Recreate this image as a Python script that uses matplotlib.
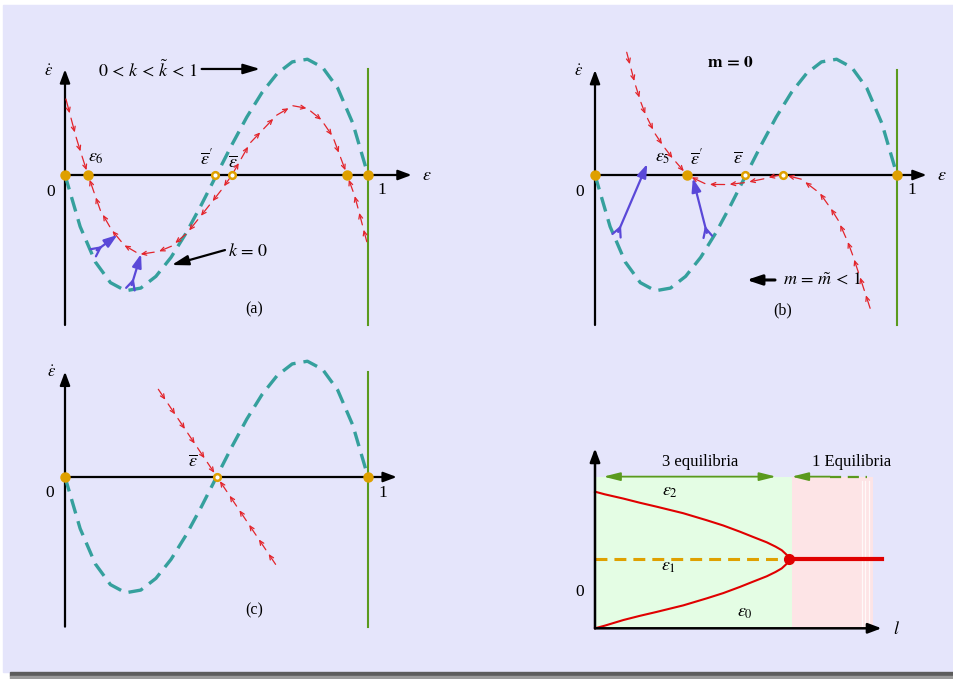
import numpy as np
import matplotlib
matplotlib.use('Agg')
import matplotlib.pyplot as plt
from matplotlib.patches import Rectangle

plt.rcParams['font.family'] = ['Liberation Serif', 'DejaVu Serif']
plt.rcParams['mathtext.fontset'] = 'stix'

BG = '#e5e5fb'
TEAL = '#35a09d'
GREEN = '#5a9a1e'
ORANGE = '#dfa000'
RED = '#e3242b'
BLUE = '#5a48d8'

# nullcline shape (same in a, b, c): eps vs eps-dot
eps_grid = [0.0, 0.05, 0.10, 0.15, 0.20, 0.25, 0.30, 0.35, 0.40, 0.45, 0.50,
            0.55, 0.60, 0.65, 0.70, 0.75, 0.80, 0.85, 0.90, 0.95, 1.0]
edot_grid = [0.0, -0.445, -0.749, -0.928, -0.998, -0.975, -0.874, -0.710, -0.499, -0.257, 0.0,
             0.257, 0.499, 0.710, 0.874, 0.975, 0.998, 0.928, 0.749, 0.445, 0.0]

# panel (a) trajectories, listed in flow direction
a_in_x = [0.003, 0.039, 0.076]
a_in_y = [0.655, 0.302, 0.0]
a_low_x = [0.551, 0.512, 0.446, 0.402, 0.336, 0.251, 0.204, 0.154, 0.116, 0.076]
a_low_y = [0.0, -0.144, -0.360, -0.503, -0.647, -0.684, -0.632, -0.474, -0.302, 0.0]
a_hump_x = [0.551, 0.611, 0.699, 0.752, 0.798, 0.842, 0.884, 0.931]
a_hump_y = [0.0, 0.276, 0.517, 0.597, 0.575, 0.491, 0.330, 0.0]
a_tail_x = [0.996, 0.957, 0.931]
a_tail_y = [-0.575, -0.187, 0.0]
a_stable = [0.0, 0.076, 0.931, 1.0]
a_unstable = [0.495, 0.551]

# panel (b)
b_in_x = [0.105, 0.132, 0.160, 0.204, 0.248, 0.305]
b_in_y = [1.058, 0.791, 0.560, 0.330, 0.172, 0.0]
b_mid_x = [0.623, 0.590, 0.546, 0.469, 0.392, 0.359, 0.305]
b_mid_y = [0.006, -0.009, -0.043, -0.078, -0.086, -0.072, 0.0]
b_tail_x = [0.911, 0.877, 0.844, 0.800, 0.745, 0.679, 0.623]
b_tail_y = [-1.149, -0.877, -0.618, -0.359, -0.158, -0.028, 0.0]
b_stable = [0.0, 0.305, 1.0]
b_unstable = [0.497, 0.623]

# panel (c)
c_in_x = [0.308, 0.502]
c_in_y = [0.756, 0.0]
c_up_x = [0.695, 0.502]
c_up_y = [-0.753, 0.0]
c_stable = [0.0, 1.0]
c_unstable = [0.502]

# panel (d) bifurcation branches
d_l = [0.0, 0.05, 0.146, 0.23, 0.318, 0.454, 0.575, 0.66, 0.746, 0.81, 0.884, 0.929, 0.961, 0.987, 0.995, 1.0]
d_eps2 = [0.990, 0.971, 0.940, 0.910, 0.881, 0.834, 0.783, 0.745, 0.700, 0.664, 0.623, 0.592, 0.566, 0.532, 0.516, 0.5]
d_eps0 = [0.0, 0.019, 0.060, 0.090, 0.119, 0.166, 0.217, 0.255, 0.300, 0.336, 0.377, 0.408, 0.434, 0.468, 0.484, 0.5]
d_eps1 = [0.5, 0.5]
d_l1 = [0.0, 1.0]
d_after_l = [1.0, 1.475]
d_after_eps = [0.5, 0.5]

W, H = 954, 679
fig = plt.figure(figsize=(W / 100, H / 100), dpi=100)
fig.patch.set_facecolor('white')
fig.add_artist(Rectangle((3 / W, 7 / H), 1, (H - 12) / H, transform=fig.transFigure,
                         color=BG, zorder=-10))
fig.add_artist(Rectangle((10 / W, 3 / H), 1, 4 / H, transform=fig.transFigure,
                         color='#5c5c5c', zorder=-10))
fig.add_artist(Rectangle((10 / W, 0), 1, 3 / H, transform=fig.transFigure,
                         color='#9a9a9a', zorder=-10))


def place(box, origin, sx, sy):
    x0, y0, x1, y1 = box
    ax = fig.add_axes([x0 / W, 1 - y1 / H, (x1 - x0) / W, (y1 - y0) / H])
    ox, oy = origin
    ax.set_xlim((x0 - ox) / sx, (x1 - ox) / sx)
    ax.set_ylim((oy - y1) / sy, (oy - y0) / sy)
    ax.axis('off')
    ax.patch.set_alpha(0)
    return ax


def arrow(ax, p0, p1, color='k', lw=1.5, style='-|>', hl=0.9, hw=0.3, ms=10, z=3):
    ax.annotate('', xy=p1, xytext=p0,
                arrowprops=dict(arrowstyle=f'{style},head_length={hl},head_width={hw}',
                                color=color, lw=lw, shrinkA=0, shrinkB=0,
                                mutation_scale=ms), zorder=z)


def frame(ax, xend, ytop, ybot):
    arrow(ax, (0, 0), (xend, 0), lw=1.6, hl=0.8, hw=0.3, ms=10)
    arrow(ax, (0, ybot), (0, ytop), lw=1.6, hl=0.8, hw=0.3, ms=10)
    ax.plot([1, 1], [ybot, ytop], color=GREEN, lw=1.5, zorder=3)
    ax.plot(eps_grid, edot_grid, color=TEAL, lw=2.4, ls=(0, (4.5, 2.4)), zorder=4)


def flow(ax, xs, ys, dash=14.0, gap=5.0):
    pts = ax.transData.transform(np.column_stack([xs, ys]))
    seg = np.hypot(*np.diff(pts, axis=0).T)
    cum = np.concatenate([[0], np.cumsum(seg)])
    total = cum[-1]
    n = max(1, int(round((total + gap) / (dash + gap))))
    step = total / n
    inv = ax.transData.inverted()
    for i in range(n):
        s0, s1 = i * step, i * step + step - gap
        p0 = [np.interp(s0, cum, pts[:, 0]), np.interp(s0, cum, pts[:, 1])]
        p1 = [np.interp(s1, cum, pts[:, 0]), np.interp(s1, cum, pts[:, 1])]
        q0, q1 = inv.transform([p0, p1])
        arrow(ax, q0, q1, color=RED, lw=0.9, style='->', hl=0.45, hw=0.2, ms=7, z=4)


def push(ax, p0, p1):
    arrow(ax, p0, p1, color=BLUE, lw=1.6, style='-|>', hl=1.0, hw=0.35, ms=8, z=5)
    a, b = ax.transData.transform([p0, p1])
    u = (b - a) / np.hypot(*(b - a))
    q = ax.transData.inverted().transform(a + 7 * u)
    arrow(ax, p0, q, color=BLUE, lw=1.6, style='->', hl=0.8, hw=0.4, ms=8, z=5)


def equilibria(ax, stable, unstable):
    ax.plot(stable, [0] * len(stable), 'o', color=ORANGE, ms=6.5, zorder=6)
    ax.plot(unstable, [0] * len(unstable), 'o', mfc='white', mec=ORANGE,
            mew=1.8, ms=4.8, zorder=6)


def txt(ax, x, y, s, size=11, **kw):
    ax.text(x, y, s, ha='center', va='center', fontsize=size, **kw)


# ---- (a)
ax = place((20, 30, 452, 340), (65, 175), 303, 116)
frame(ax, 1.144, 0.911, -1.293)
for xs, ys in [(a_in_x, a_in_y), (a_low_x, a_low_y), (a_hump_x, a_hump_y), (a_tail_x, a_tail_y)]:
    flow(ax, xs, ys)
push(ax, (0.105, -0.648), (0.173, -0.517))
push(ax, (0.220, -0.948), (0.251, -0.681))
equilibria(ax, a_stable, a_unstable)
txt(ax, -0.056, 0.888, r'$\dot{\epsilon}$', 12)
txt(ax, 0.102, 0.150, r'$\epsilon_6$', 13)
txt(ax, 0.466, 0.135, r"$\overline{\epsilon}'$", 13)
txt(ax, 0.553, 0.108, r'$\overline{\epsilon}$', 13)
txt(ax, -0.047, -0.144, '0', 12.5)
txt(ax, 1.047, -0.129, '1', 12.5)
txt(ax, 1.194, 0.0, r'$\epsilon$', 13)
txt(ax, 0.624, -1.158, '(a)', 11.5)
txt(ax, 0.272, 0.908, r'$0\,<\,k\,<\,\tilde{k}\,<\,1$', 13)
arrow(ax, (0.451, 0.914), (0.644, 0.914), lw=1.6, hl=1.0, hw=0.3, ms=10)
txt(ax, 0.604, -0.661, r'$k\,=\,0$', 13)
arrow(ax, (0.528, -0.647), (0.352, -0.776), lw=1.6, hl=1.0, hw=0.3, ms=10)

# ---- (b)
ax = place((560, 30, 954, 340), (595, 175), 302, 116)
frame(ax, 1.098, 0.905, -1.293)
for xs, ys in [(b_in_x, b_in_y), (b_mid_x, b_mid_y), (b_tail_x, b_tail_y)]:
    flow(ax, xs, ys)
push(ax, (0.077, -0.489), (0.173, 0.095))
push(ax, (0.370, -0.497), (0.324, -0.028))
equilibria(ax, b_stable, b_unstable)
txt(ax, -0.056, 0.888, r'$\dot{\epsilon}$', 12)
txt(ax, 0.447, 0.968, r'$\mathbf{m\,=\,0}$', 12.5)
txt(ax, 0.223, 0.150, r'$\epsilon_5$', 13)
txt(ax, 0.337, 0.135, r"$\overline{\epsilon}'$", 13)
txt(ax, 0.472, 0.135, r'$\overline{\epsilon}$', 13)
txt(ax, -0.050, -0.144, '0', 12.5)
txt(ax, 1.049, -0.129, '1', 12.5)
txt(ax, 1.148, 0.0, r'$\epsilon$', 13)
txt(ax, 0.621, -1.164, '(b)', 11.5)
txt(ax, 0.753, -0.905, r'$m\,=\,\tilde{m}\,<\,1$', 13)
arrow(ax, (0.596, -0.905), (0.502, -0.905), lw=2.2, hl=0.9, hw=0.3, ms=10)

# ---- (c)
ax = place((20, 345, 452, 650), (65, 477), 303, 116)
frame(ax, 1.095, 0.908, -1.29)
flow(ax, c_in_x, c_in_y)
flow(ax, c_up_x, c_up_y)
equilibria(ax, c_stable, c_unstable)
txt(ax, -0.044, 0.899, r'$\dot{\epsilon}$', 12)
txt(ax, 0.423, 0.128, r'$\overline{\epsilon}$', 13)
txt(ax, -0.050, -0.135, '0', 12.5)
txt(ax, 1.048, -0.141, '1', 12.5)
txt(ax, 0.624, -1.149, '(c)', 11.5)

# ---- (d)
ax = place((560, 440, 954, 665), (595, 628.3), 194.3, 138)
ax.add_patch(Rectangle((0, 0), 1.012, 1.099, color='#e4fde4', zorder=0, lw=0))
ax.add_patch(Rectangle((1.012, 0), 0.418, 1.099, color='#fde4e6', zorder=0, lw=0))
for xv in [1.372, 1.392, 1.41]:
    ax.plot([xv, xv], [0.01, 1.07], color='white', lw=0.9, alpha=0.8, zorder=1)
ax.plot(d_l, d_eps2, color='#e00000', lw=1.5, zorder=3)
ax.plot(d_l, d_eps0, color='#e00000', lw=1.5, zorder=3)
ax.plot(d_l1, d_eps1, color=ORANGE, lw=2.2, ls=(0, (3.9, 2.3)), zorder=3)
ax.plot(d_after_l, d_after_eps, color='#e00000', lw=3, zorder=3)
ax.plot([1.0], [0.5], 'o', color='#e00000', ms=7, zorder=4)
arrow(ax, (0, 0), (1.475, 0), lw=1.8, hl=0.8, hw=0.3, ms=10)
arrow(ax, (0, 0), (0, 1.304), lw=1.8, hl=0.8, hw=0.3, ms=10)
arrow(ax, (0.043, 1.099), (0.932, 1.099), color=GREEN, lw=1.3, style='<|-|>', hl=1.0, hw=0.25, ms=10)
arrow(ax, (1.209, 1.099), (1.012, 1.099), color=GREEN, lw=1.3, hl=1.0, hw=0.25, ms=10)
ax.plot([1.209, 1.398], [1.099, 1.099], color=GREEN, lw=1.6, ls=(0, (5, 3)))
txt(ax, 0.54, 1.207, '3 equilibria', 12)
txt(ax, 1.321, 1.207, '1 Equilibria', 12)
txt(ax, 0.386, 0.99, r'$\epsilon_2$', 13)
txt(ax, 0.377, 0.446, r'$\epsilon_1$', 13)
txt(ax, 0.772, 0.113, r'$\epsilon_0$', 13)
txt(ax, -0.077, 0.265, '0', 12.5)
txt(ax, 1.553, -0.012, r'$l$', 13)

fig.savefig('out.png', dpi=100, facecolor=fig.get_facecolor())
